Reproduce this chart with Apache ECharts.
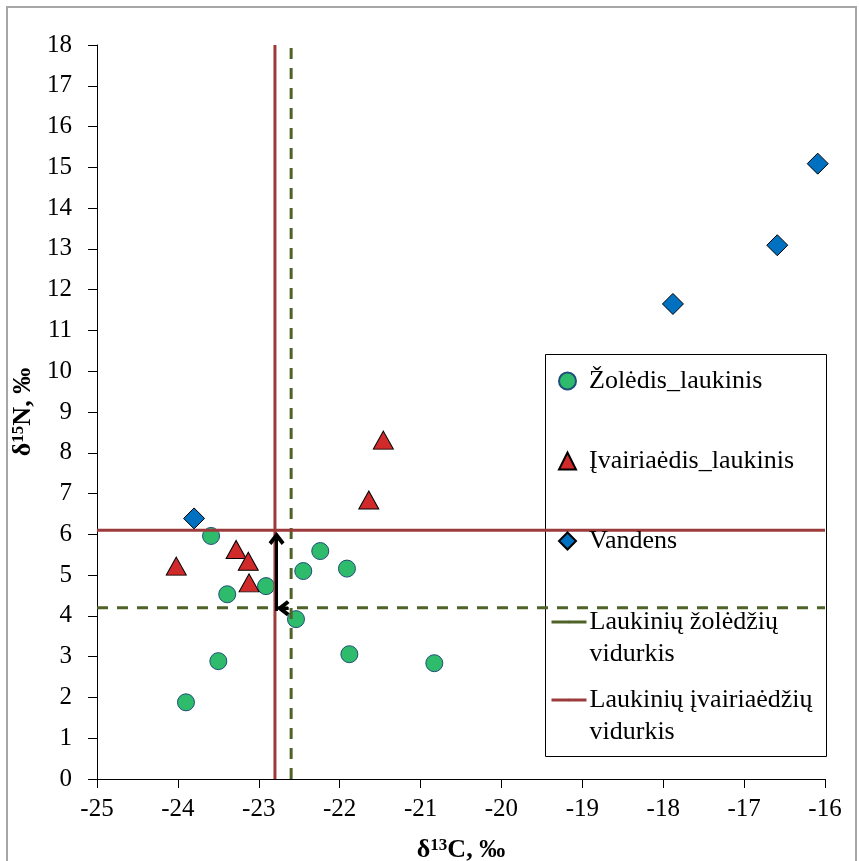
<!DOCTYPE html>
<html>
<head>
<meta charset="utf-8">
<script src="https://cdn.jsdelivr.net/npm/echarts@6/dist/echarts.min.js"></script>
<style>
  html, body { margin: 0; padding: 0; background: #fff; }
  #chart { width: 859px; height: 861px; }
</style>
</head>
<body>
<div id="chart"></div>
<script>
// δ13C (x) and δ15N (y) values, ‰
const zoledisLaukinis = [
  [-23.59, 5.96], [-23.39, 4.53], [-22.91, 4.73], [-22.45, 5.10],
  [-22.24, 5.59], [-21.91, 5.16], [-22.54, 3.92], [-23.50, 2.89],
  [-23.90, 1.88], [-21.88, 3.06], [-20.83, 2.84]
];
const ivairiaedisLaukinis = [
  [-21.46, 8.31], [-21.64, 6.84], [-23.28, 5.63], [-23.13, 5.34],
  [-23.12, 4.81], [-24.02, 5.22]
];
const vandens = [
  [-23.80, 6.39], [-17.88, 11.65], [-16.59, 13.09], [-16.09, 15.09]
];

// group means (x = δ13C, y = δ15N)
const zoledziuVidurkis = [-22.6, 4.2];
const ivairiaedziuVidurkis = [-22.8, 6.1];

// axis ranges
const xRange = [-25, -16];
const yRange = [0, 18];

// shift arrows between the two means: [start, end]
const shiftArrows = [
  [[-22.78, 4.12], [-22.78, 5.90]],
  [[-22.63, 4.19], [-22.70, 4.19]]
];

const names = [
  'Žolėdis_laukinis',
  'Įvairiaėdis_laukinis',
  'Vandens',
  'Laukinių žolėdžių vidurkis',
  'Laukinių įvairiaėdžių vidurkis'
];
const legendLines = {
  'Laukinių žolėdžių vidurkis': ['Laukinių žolėdžių', 'vidurkis'],
  'Laukinių įvairiaėdžių vidurkis': ['Laukinių įvairiaėdžių', 'vidurkis']
};

const FONT = 'Liberation Serif';
const RED = '#9B3B3B';
const GREEN = '#4F6228';

function vLine(x) { return [[x, yRange[0]], [x, yRange[1]]]; }
function hLine(y) { return [[xRange[0], y], [xRange[1], y]]; }

// open arrow head, pointing up in its own frame
const chevron = 'path://M5,0 L10,7.2 L8.2,9 L5,4.6 L1.8,9 L0,7.2 Z';

const lineBase = {
  type: 'line', symbol: 'none', silent: true, animation: false,
  emphasis: { disabled: true }
};

const nameRich = {
  b: { fontFamily: FONT, fontWeight: 'bold', fontSize: 26, color: '#000' },
  s: { fontFamily: FONT, fontWeight: 'bold', fontSize: 17, color: '#000', verticalAlign: 'top' }
};

const chart = echarts.init(document.getElementById('chart'), null, { renderer: 'canvas' });

chart.setOption({
  animation: false,
  backgroundColor: '#fff',
  grid: { left: 97, right: 34, top: 45, bottom: 82, containLabel: false, outerBoundsMode: 'none' },
  xAxis: {
    type: 'value', min: xRange[0], max: xRange[1], interval: 1,
    name: '{b|δ}{s|13}{b|C, ‰}', nameLocation: 'middle', nameGap: 58,
    nameTextStyle: { rich: nameRich },
    axisLine: { onZero: false, lineStyle: { color: '#000', width: 1 } },
    axisTick: { show: true, length: 9, lineStyle: { color: '#000' } },
    axisLabel: { fontFamily: FONT, fontSize: 25, color: '#000', margin: 18 },
    splitLine: { show: false }
  },
  yAxis: {
    type: 'value', min: yRange[0], max: yRange[1], interval: 1,
    name: '{b|δ}{s|15}{b|N, ‰}', nameLocation: 'middle', nameGap: 49, nameRotate: 90,
    nameTextStyle: { rich: nameRich },
    axisLine: { onZero: false, lineStyle: { color: '#000', width: 1 } },
    axisTick: { show: true, length: 9, lineStyle: { color: '#000' } },
    axisLabel: { fontFamily: FONT, fontSize: 25, color: '#000', margin: 25 },
    splitLine: { show: false }
  },
  legend: [
    {
      data: names.slice(0, 3), orient: 'vertical', left: 558, top: 366,
      padding: 0, itemWidth: 17, itemHeight: 17, itemGap: 50, selectedMode: false,
      textStyle: { fontFamily: FONT, fontSize: 26, color: '#000', lineHeight: 30, padding: [0, 0, 0, 8] }
    },
    {
      data: [names[3]], orient: 'vertical', left: 550, top: 574,
      padding: 0, itemWidth: 35, itemHeight: 3, selectedMode: false,
      lineStyle: { type: 'solid', width: 3 },
      formatter: n => '\n' + legendLines[n].join('\n'),
      textStyle: { fontFamily: FONT, fontSize: 26, color: '#000', lineHeight: 32, padding: [0, 0, 0, -2] }
    },
    {
      data: [names[4]], orient: 'vertical', left: 550, top: 652,
      padding: 0, itemWidth: 35, itemHeight: 3, selectedMode: false,
      lineStyle: { type: 'solid', width: 3 },
      formatter: n => '\n' + legendLines[n].join('\n'),
      textStyle: { fontFamily: FONT, fontSize: 26, color: '#000', lineHeight: 32, padding: [0, 0, 0, -2] }
    }
  ],
  graphic: [
    {
      type: 'rect', silent: true, z: 0,
      shape: { x: 7, y: 7, width: 849, height: 900 },
      style: { fill: 'none', stroke: '#a6a6a6', lineWidth: 2 }
    },
    {
      type: 'rect', silent: true, z: 3,
      shape: { x: 545.5, y: 354.5, width: 281, height: 402 },
      style: { fill: '#fff', stroke: '#000', lineWidth: 1 }
    }
  ],
  series: [
    Object.assign({}, lineBase, {
      name: names[3], data: vLine(zoledziuVidurkis[0]),
      lineStyle: { color: GREEN, width: 3, type: [11, 9] }, itemStyle: { color: GREEN }
    }),
    Object.assign({}, lineBase, {
      name: names[3], data: hLine(zoledziuVidurkis[1]),
      lineStyle: { color: GREEN, width: 3, type: [11, 9] }, itemStyle: { color: GREEN }
    }),
    Object.assign({}, lineBase, {
      name: names[4], data: vLine(ivairiaedziuVidurkis[0]),
      lineStyle: { color: RED, width: 3 }, itemStyle: { color: RED }
    }),
    Object.assign({}, lineBase, {
      name: names[4], data: hLine(ivairiaedziuVidurkis[1]),
      lineStyle: { color: RED, width: 3 }, itemStyle: { color: RED }
    }),
    {
      name: names[0], type: 'scatter', data: zoledisLaukinis,
      symbol: 'circle', symbolSize: 17,
      itemStyle: { color: '#2EBB6C', borderColor: '#1F4E79', borderWidth: 1, opacity: 1 }
    },
    {
      name: names[1], type: 'scatter', data: ivairiaedisLaukinis,
      symbol: 'triangle', symbolSize: [20, 18],
      itemStyle: { color: '#D02A2A', borderColor: '#000', borderWidth: 1, opacity: 1 }
    },
    {
      name: names[2], type: 'scatter', data: vandens,
      symbol: 'diamond', symbolSize: 21,
      itemStyle: { color: '#0070C0', borderColor: '#000', borderWidth: 1, opacity: 1 }
    },
    {
      name: 'poslinkis', type: 'line', data: [], silent: true,
      markLine: {
        silent: true, animation: false,
        symbol: ['none', chevron], symbolSize: [16, 13],
        label: { show: false },
        emphasis: { disabled: true },
        lineStyle: { color: '#000', width: 3, type: 'solid' },
        data: shiftArrows.map(a => [{ coord: a[0] }, { coord: a[1] }])
      }
    }
  ]
});
</script>
</body>
</html>
